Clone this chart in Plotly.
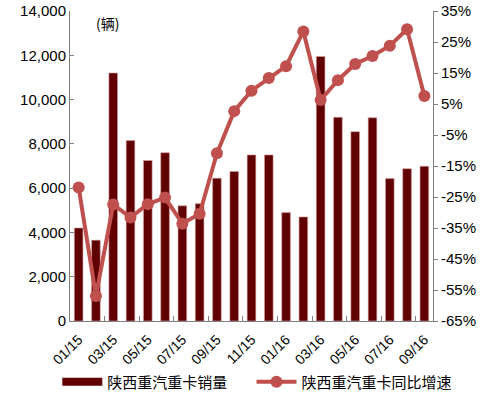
import plotly.graph_objects as go

months = ["01/15","02/15","03/15","04/15","05/15","06/15","07/15","08/15","09/15","10/15","11/15","12/15",
          "01/16","02/16","03/16","04/16","05/16","06/16","07/16","08/16","09/16"]
sales = [4200, 3650, 11200, 8150, 7250, 7600, 5200, 5300, 6450, 6750, 7500, 7500,
         4900, 4700, 11950, 9200, 8550, 9180, 6430, 6880, 6990]
yoy = [-21.9, -56.9, -27.4, -31.6, -27.3, -25.2, -33.6, -30.4, -10.9, 2.7, 9.3, 13.4,
       17.2, 28.4, 6.3, 12.7, 17.9, 20.5, 23.8, 29.1, 7.6]
left_ticks = [0, 2000, 4000, 6000, 8000, 10000, 12000, 14000]
right_ticks = [35, 25, 15, 5, -5, -15, -25, -35, -45, -55, -65]
label_months = months[::2]

bar_name = "陕西重汽重卡销量"
line_name = "陕西重汽重卡同比增速"
bar_color = "#600000"
line_color = "#C0504D"

fig = go.Figure()
fig.add_trace(go.Bar(x=months, y=sales, name=bar_name, width=0.5, showlegend=False,
                     marker=dict(color=bar_color, line=dict(color="#d8a0a0", width=0.6))))
# legend entry for the bars (wide swatch like the original)
fig.add_trace(go.Scatter(x=[None], y=[None], name=bar_name, mode="lines",
                         line=dict(color=bar_color, width=8), legend="legend"))
fig.add_trace(go.Scatter(x=months, y=yoy, name=line_name, yaxis="y2", mode="lines+markers",
                         line=dict(color=line_color, width=4),
                         marker=dict(color=line_color, size=12), legend="legend2"))

axis_font = dict(family="Liberation Sans, Arial, sans-serif", size=15, color="#000000")
leg_font = dict(family="Noto Sans CJK SC", size=15, color="#000000")
fig.update_layout(
    width=486, height=399,
    margin=dict(l=70, r=53, t=11, b=78, autoexpand=False),
    paper_bgcolor="white", plot_bgcolor="white",
    showlegend=True,
    legend=dict(orientation="h", x=-0.035, xanchor="left", y=-0.197, yanchor="middle",
                font=leg_font, itemwidth=40, bgcolor="rgba(0,0,0,0)"),
    legend2=dict(orientation="h", x=0.50, xanchor="left", y=-0.197, yanchor="middle",
                 font=leg_font, itemwidth=40, bgcolor="rgba(0,0,0,0)"),
    xaxis=dict(type="category", range=[-0.5, len(months) - 0.5],
               tickmode="array", tickvals=label_months, ticktext=label_months,
               tickangle=-45, tickson="boundaries", ticks="inside", ticklen=5, tickcolor="#808080",
               ticklabelstandoff=4,
               showline=True, linecolor="#808080", linewidth=1, showgrid=False, automargin=False,
               tickfont=dict(family="Liberation Sans, Arial, sans-serif", size=14, color="#000000")),
    yaxis=dict(range=[0, 14000], tickvals=left_ticks, tickformat=",d",
               ticks="inside", ticklen=4, tickcolor="#808080", automargin=False,
               showline=True, linecolor="#808080", linewidth=1, showgrid=False, zeroline=False,
               tickfont=axis_font),
    yaxis2=dict(range=[-65, 35], overlaying="y", side="right", tickvals=right_ticks,
                ticktext=[f"{v}%" for v in right_ticks], automargin=False,
                ticks="outside", ticklen=4, tickcolor="#808080",
                showline=True, linecolor="#808080", linewidth=1, showgrid=False, zeroline=False,
                tickfont=axis_font),
    bargap=0.5,
    annotations=[dict(text="(辆)", xref="paper", yref="paper", x=0.066, y=1.0,
                      xanchor="left", yanchor="top", showarrow=False,
                      font=dict(family="Noto Sans CJK SC", size=14, color="#000000"))],
)

fig.write_html("out.html", config={"displayModeBar": False},
               post_script="document.body.style.margin='0';")
